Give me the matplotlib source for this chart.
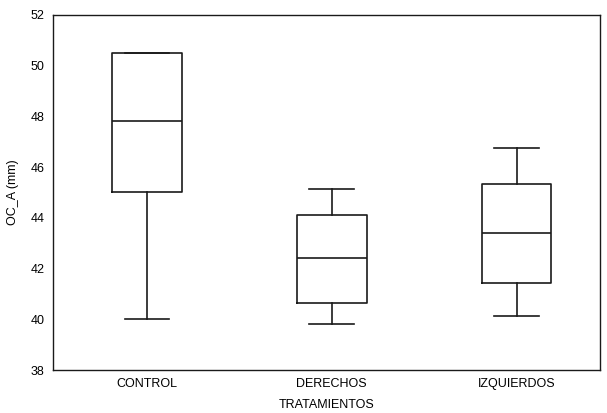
import matplotlib
matplotlib.use('Agg')
import matplotlib.pyplot as plt

plt.rcParams['font.family'] = ['Liberation Sans', 'DejaVu Sans']

groups = ['CONTROL', 'DERECHOS', 'IZQUIERDOS']
whislo = [40.0, 39.8, 40.15]
q1 = [45.0, 40.65, 41.45]
med = [47.8, 42.4, 43.4]
q3 = [50.5, 44.1, 45.35]
whishi = [50.5, 45.15, 46.75]

stats = []
for i in range(len(groups)):
    stats.append({'label': groups[i], 'whislo': whislo[i], 'q1': q1[i],
                  'med': med[i], 'q3': q3[i], 'whishi': whishi[i], 'fliers': []})

fig = plt.figure(figsize=(6.07, 4.13), dpi=100)
ax = fig.add_axes([0.087, 0.104, 0.901, 0.86])

lc = '#1a1a1a'
ax.bxp(stats, positions=[1, 2, 3], widths=0.378, showfliers=False,
       boxprops=dict(color=lc, linewidth=1.2),
       medianprops=dict(color=lc, linewidth=1.2),
       whiskerprops=dict(color=lc, linewidth=1.2),
       capprops=dict(color=lc, linewidth=1.2),
       capwidths=0.243)

ax.set_xlim(0.49, 3.45)
ax.set_ylim(38, 52)
ax.set_yticks(range(38, 53, 2))
ax.tick_params(length=0, labelsize=9, pad=6)
ax.set_xticklabels(groups)
for s in ax.spines.values():
    s.set_linewidth(1.0)
    s.set_color(lc)

ax.set_xlabel('TRATAMIENTOS', fontsize=9, labelpad=6)
ax.set_ylabel('OC_A (mm)', fontsize=9, labelpad=8)

fig.savefig('out.png', dpi=100)
